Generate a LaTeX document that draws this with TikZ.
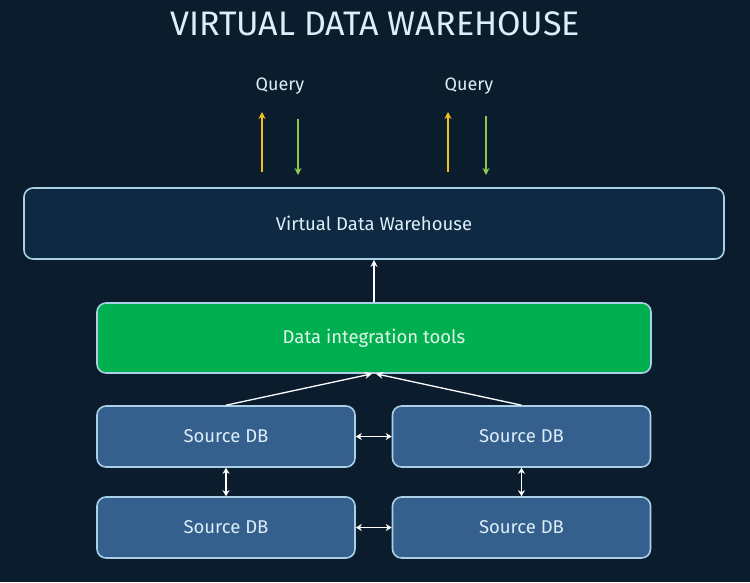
\documentclass[tikz,border=0pt]{standalone}
\usepackage{fontspec}
\setmainfont{Fira Sans}
\usepackage{tikz}
\usetikzlibrary{positioning}
\usetikzlibrary{arrows.meta}

\definecolor{bgnavy}{HTML}{0B1D2D}
\definecolor{vdwfill}{HTML}{0D2A42}
\definecolor{edgeblue}{HTML}{A9D0E6}
\definecolor{srcfill}{HTML}{355F8C}
\definecolor{intgreen}{HTML}{00B050}
\definecolor{txtlight}{HTML}{DDEEF8}
\definecolor{txtgreen}{HTML}{E2F7EA}
\definecolor{qyellow}{HTML}{F2C21B}
\definecolor{qgreen}{HTML}{8CCB4E}

\tikzset{
  box/.style={draw=edgeblue, line width=1.6pt, rounded corners=9pt, text=txtlight, font=\fontsize{18.5}{22}\selectfont},
  srcbox/.style={box, fill=srcfill, minimum width=258pt, minimum height=61pt},
  link/.style={draw=white, line width=1.3pt, -{Stealth[length=7pt,width=7pt]}},
  twoway/.style={draw=white, line width=1.3pt, {Stealth[length=6pt,width=7pt]}-{Stealth[length=6pt,width=7pt]}},
  qarrow/.style={line width=1.4pt, -{Stealth[length=7pt,width=7pt]}},
}

\begin{document}
\begin{tikzpicture}[x=1pt,y=-1pt]
\fill[bgnavy] (0,0) rectangle (750,582);
\useasboundingbox (0,0) rectangle (750,582);

\node[text=txtlight, font=\fontsize{34}{40}\selectfont] (title) at (375,24) {VIRTUAL DATA WAREHOUSE};

\node[text=txtlight, font=\fontsize{18}{22}\selectfont] (q1) at (280,86) {Query};
\node[text=txtlight, font=\fontsize{18}{22}\selectfont] (q2) at (469,86) {Query};

\node[box, fill=vdwfill, minimum width=700pt, minimum height=71pt] (vdw) at (374,223.5) {Virtual Data Warehouse};
\node[box, fill=intgreen, text=txtgreen, minimum width=554pt, minimum height=70pt] (dit) at (374,338) {Data integration tools};

\node[srcbox] (s1) at (226,436.5) {Source DB};
\node[srcbox] (s2) at (521.5,436.5) {Source DB};
\node[srcbox] (s3) at (226,527.5) {Source DB};
\node[srcbox] (s4) at (521.5,527.5) {Source DB};

% query arrows
\coordinate (u1) at (262,172);
\coordinate (u2) at (448,172);
\coordinate (d1) at (298,119);
\coordinate (d2) at (486,116);
\draw[qarrow, qyellow] (u1) -- ++(0,-60);
\draw[qarrow, qgreen] (d1) -- ++(0,56);
\draw[qarrow, qyellow] (u2) -- ++(0,-60);
\draw[qarrow, qgreen] (d2) -- ++(0,59);

% integration
\draw[link] (dit.north) -- (vdw.south);
\draw[link] (s1.north) -- ([xshift=-2pt]dit.south);
\draw[link] (s2.north) -- ([xshift=2pt]dit.south);

% sources
\draw[twoway] (s1) -- (s2);
\draw[twoway] (s3) -- (s4);
\draw[twoway] (s1) -- (s3);
\draw[twoway] (s2) -- (s4);
\end{tikzpicture}
\end{document}
